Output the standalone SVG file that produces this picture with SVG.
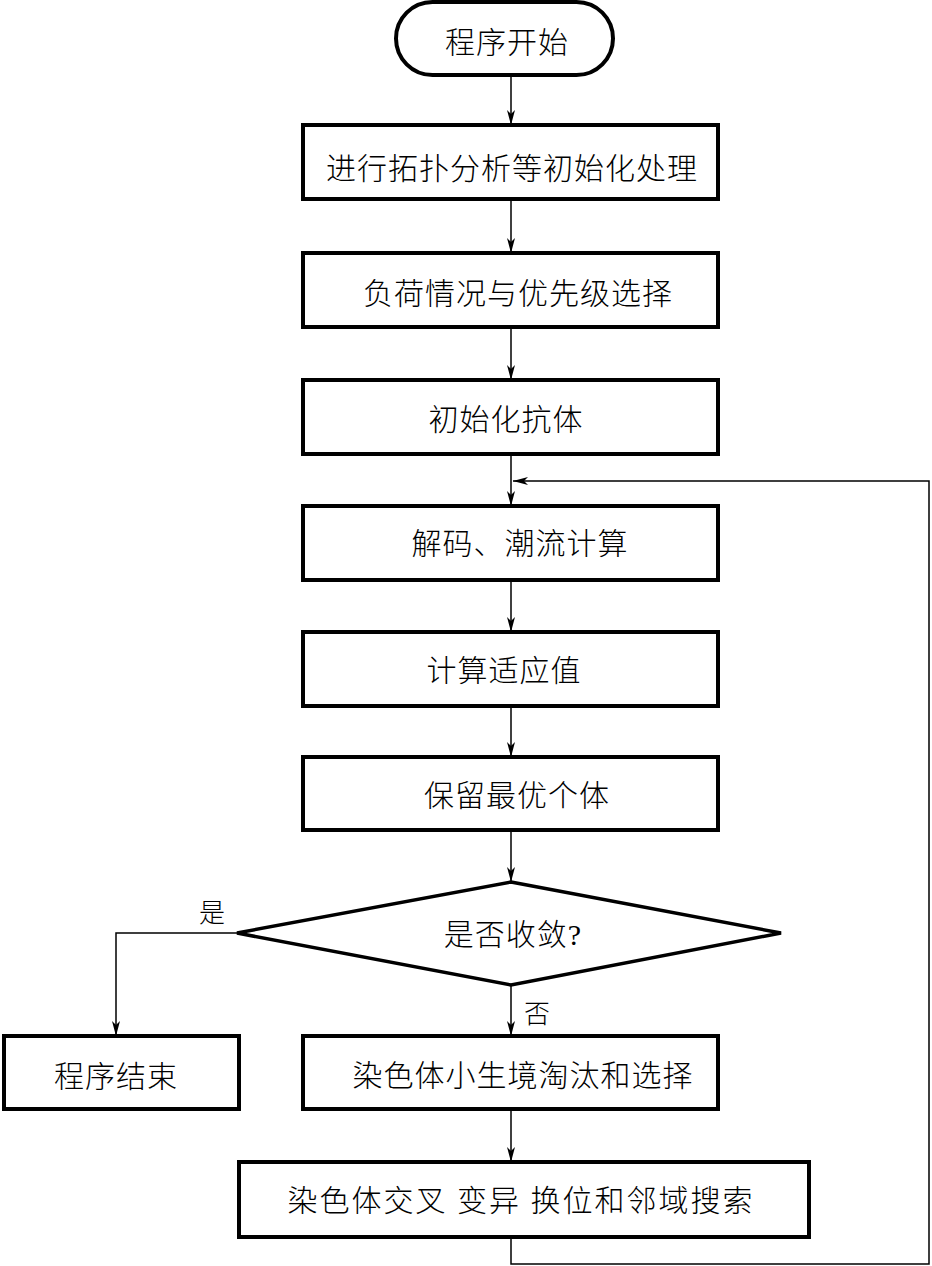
<svg xmlns="http://www.w3.org/2000/svg" width="932" height="1266" viewBox="0 0 932 1266">
<defs>
<marker id="arr" markerWidth="16" markerHeight="8" refX="15" refY="4" orient="auto" markerUnits="userSpaceOnUse">
<path d="M0,0 L15,4 L0,8 L4,4 z" fill="#000"/>
</marker>
<style>
.box{fill:#fff;stroke:#000;stroke-width:4}
.dia{fill:#fff;stroke:#000;stroke-width:3.5;stroke-linejoin:miter}
.t{font-family:"Liberation Serif","Noto Sans CJK SC",serif;font-size:30px;font-weight:300;letter-spacing:1px;text-anchor:middle;dominant-baseline:central;fill:#000}
.wide{letter-spacing:2px}
.lbl{font-family:"Liberation Serif","Noto Sans CJK SC",serif;font-size:26px;font-weight:300;text-anchor:middle;dominant-baseline:central;fill:#000}
.c{fill:none;stroke:#000;stroke-width:1.5}
.ca{fill:none;stroke:#000;stroke-width:1.5;marker-end:url(#arr)}
</style>
</defs>
<rect width="932" height="1266" fill="#fff"/>
<g id="connectors">
<line class="ca" x1="511" y1="75" x2="511" y2="125"/>
<line class="ca" x1="511" y1="199" x2="511" y2="253"/>
<line class="ca" x1="511" y1="327" x2="511" y2="380"/>
<line class="ca" x1="511" y1="454" x2="511" y2="506"/>
<line class="ca" x1="511" y1="580" x2="511" y2="632"/>
<line class="ca" x1="511" y1="706" x2="511" y2="757"/>
<line class="ca" x1="511" y1="830" x2="511" y2="882"/>
<line class="ca" x1="511" y1="985" x2="511" y2="1036"/>
<polyline class="ca" points="237,933 116,933 116,1036"/>
<line class="ca" x1="511" y1="1109" x2="511" y2="1162"/>
<polyline class="ca" points="511,1237 511,1264 929,1264 929,481 513,481"/>
<text class="lbl" x="212" y="913">是</text>
<text class="lbl" x="537" y="1014">否</text>
</g>
<g id="start">
<rect class="box" x="396" y="2" width="217" height="73" rx="36.5" ry="36.5"/>
<text class="t" x="507" y="42">程序开始</text>
</g>
<g id="init">
<rect class="box" x="303" y="125" width="415" height="74"/>
<text class="t" x="512" y="168">进行拓扑分析等初始化处理</text>
</g>
<g id="load">
<rect class="box" x="303" y="253" width="415" height="74"/>
<text class="t" x="518" y="293">负荷情况与优先级选择</text>
</g>
<g id="antibody">
<rect class="box" x="303" y="380" width="415" height="74"/>
<text class="t" x="506" y="419">初始化抗体</text>
</g>
<g id="decode">
<rect class="box" x="303" y="506" width="415" height="74"/>
<text class="t" x="520" y="543">解码、潮流计算</text>
</g>
<g id="fitness">
<rect class="box" x="303" y="632" width="415" height="74"/>
<text class="t" x="504" y="670">计算适应值</text>
</g>
<g id="keep">
<rect class="box" x="303" y="757" width="415" height="73"/>
<text class="t" x="517" y="795">保留最优个体</text>
</g>
<g id="converge">
<polygon class="dia" points="511,882 781,933 511,985 237,933"/>
<text class="t" x="513" y="934">是否收敛?</text>
</g>
<g id="end">
<rect class="box" x="4" y="1036" width="235" height="73"/>
<text class="t" x="116" y="1076">程序结束</text>
</g>
<g id="niche">
<rect class="box" x="303" y="1036" width="415" height="73"/>
<text class="t" x="523" y="1075">染色体小生境淘汰和选择</text>
</g>
<g id="cross">
<rect class="box" x="239" y="1162" width="570" height="75"/>
<text class="t wide" x="521" y="1200">染色体交叉 变异 换位和邻域搜索</text>
</g>
</svg>
